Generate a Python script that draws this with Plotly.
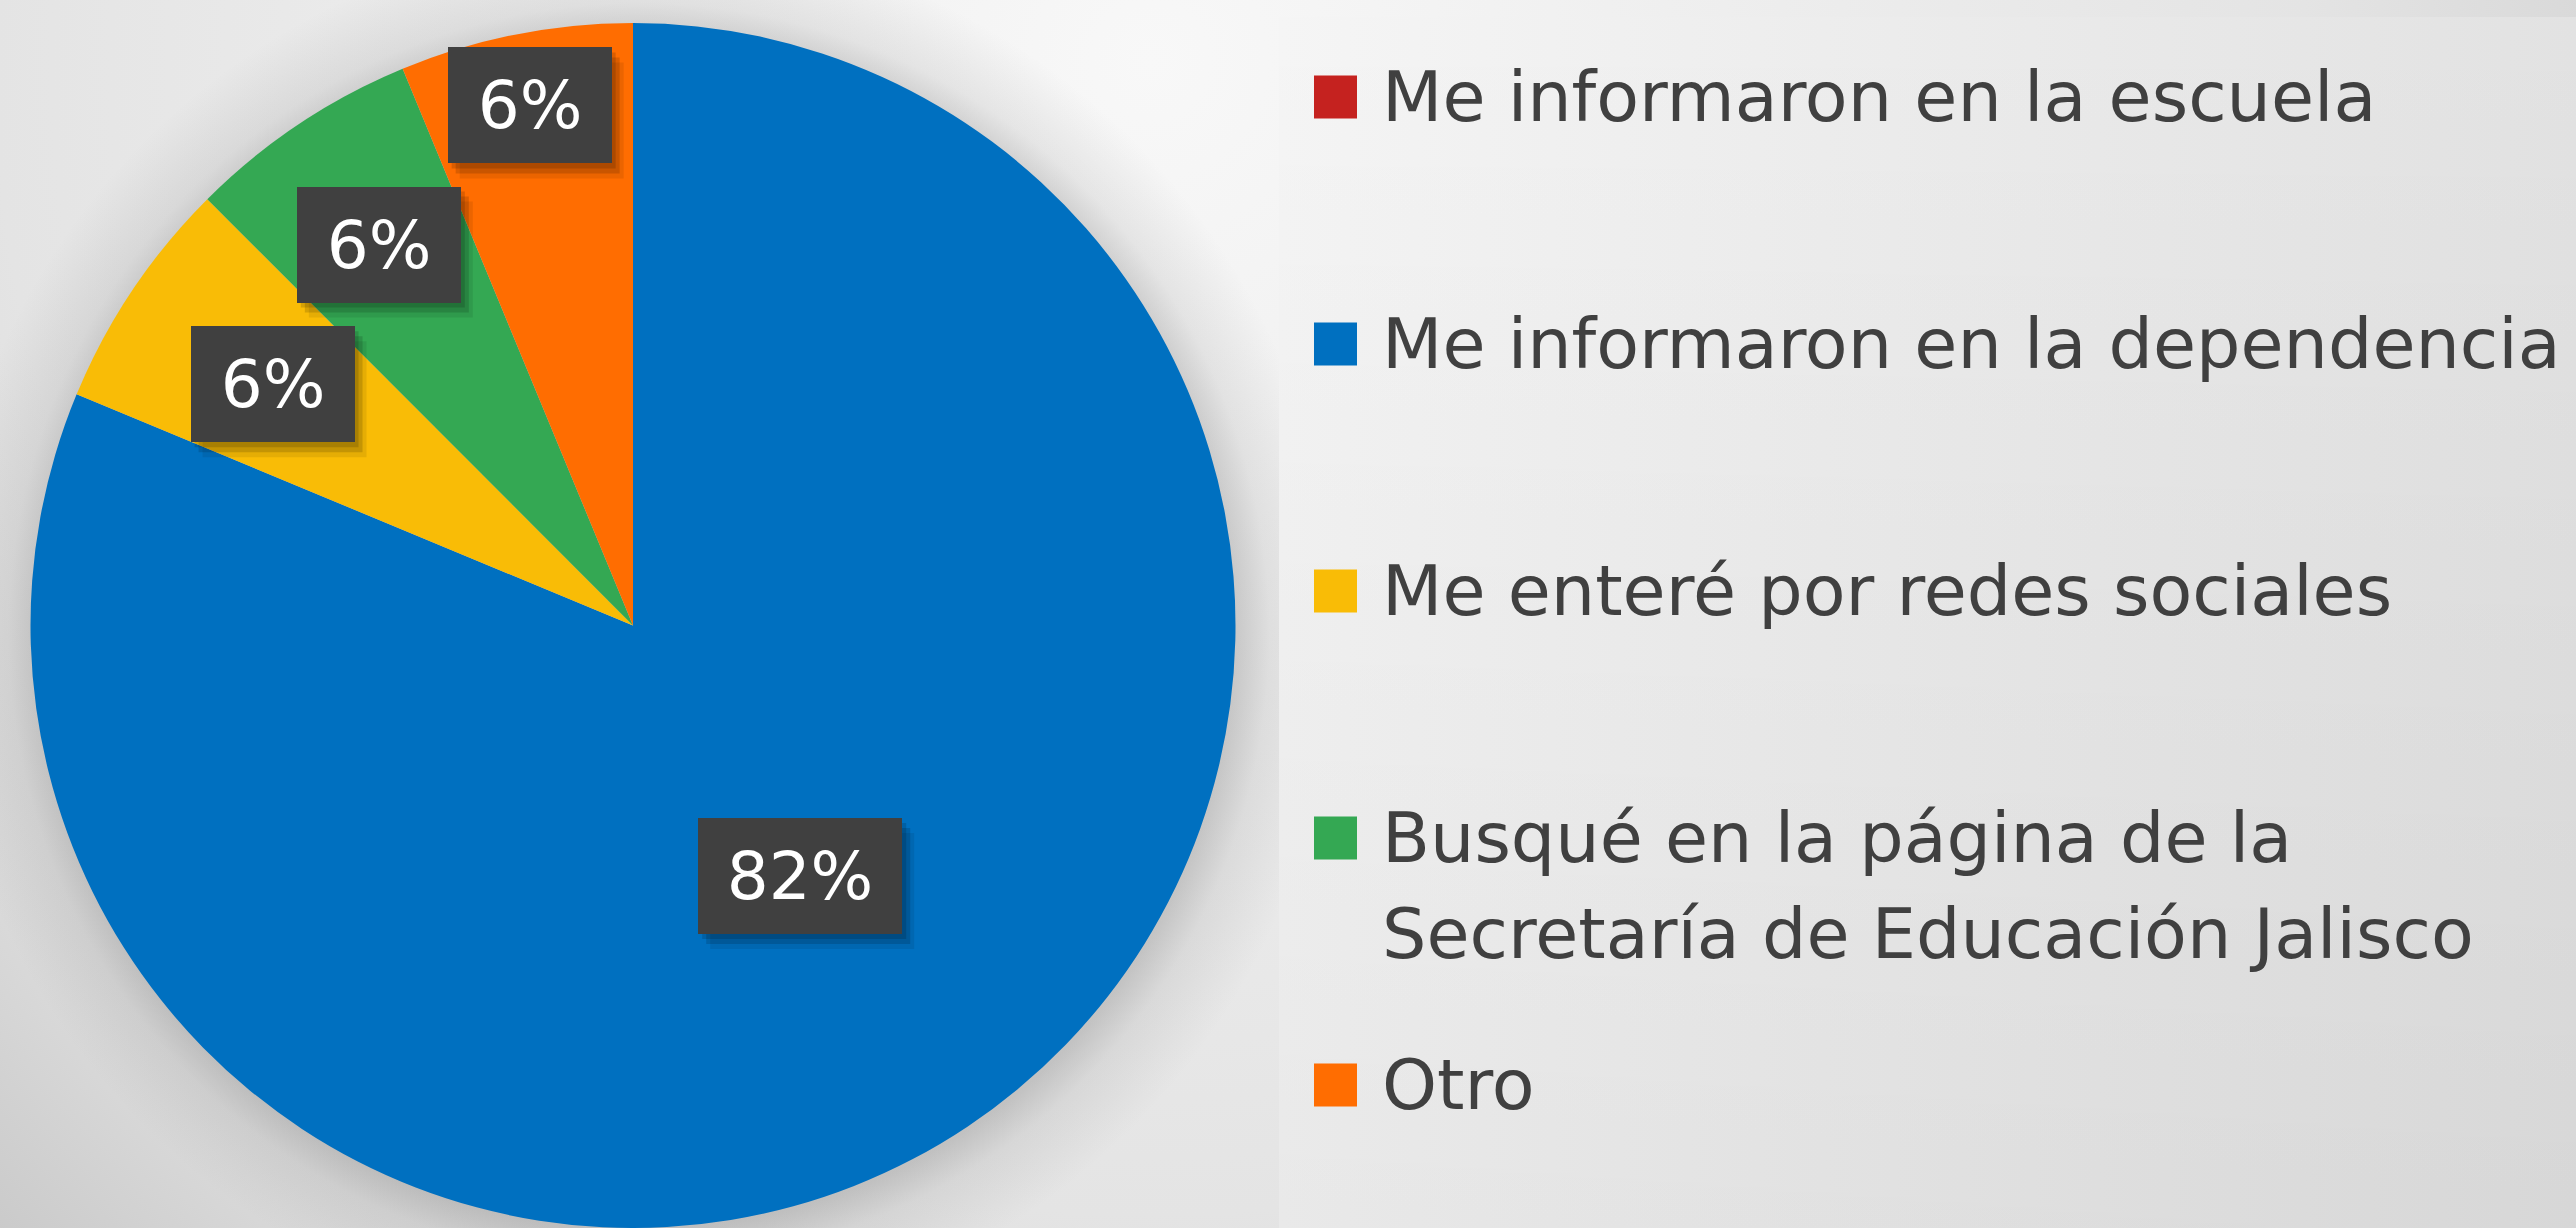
import numpy as np
import plotly.graph_objects as go

# ---------------- data ----------------
categories = [
    "Me informaron en la escuela",
    "Me informaron en la dependencia",
    "Me enteré por redes sociales",
    "Busqué en la página de la<br>Secretaría de Educación Jalisco",
    "Otro",
]
# percentages as shown in the data labels (slice sizes)
responses = [0, 82, 6.3, 6.3, 6.3]
slice_colors = ["#C5221F", "#0070C0", "#F9BC06", "#34A853", "#FF6D01"]

# ---------------- canvas / geometry ----------------
W, H = 2576, 1228
PIE_CX, PIE_TOP, PIE_R = 633, 23, 605

dom_x = [(PIE_CX - PIE_R) / W, (PIE_CX + PIE_R) / W]
dom_y = [0.0, 1 - PIE_TOP / H]
r_eff = min(2 * PIE_R, H - PIE_TOP) / 2
cy_eff = PIE_TOP + r_eff

fig = go.Figure()

def circle(cx, cy, r, n=240):
    t = np.linspace(0, 2 * np.pi, n)
    return cx + r * np.cos(t), cy + r * np.sin(t)

# background radial gradient
bx, by = circle(1150, 60, 1750)
fig.add_trace(go.Scatter(
    x=bx, y=by, mode="lines", fill="toself", line=dict(width=0),
    fillgradient=dict(type="radial", colorscale=[
        [0.0, "#f8f8f8"], [0.66, "#e4e4e4"], [0.82, "#d9d9d9"],
        [0.94, "#cacaca"], [1.0, "#c6c6c6"]]),
    hoverinfo="skip", showlegend=False))

# soft shadow around the pie
sx, sy = circle(PIE_CX + 6, cy_eff + 8, r_eff * 1.16)
edge = 1 / 1.16
fig.add_trace(go.Scatter(
    x=sx, y=sy, mode="lines", fill="toself", line=dict(width=0),
    fillgradient=dict(type="radial", colorscale=[
        [0.0, "rgba(110,110,110,0.30)"], [edge - 0.01, "rgba(110,110,110,0.30)"],
        [edge + 0.04, "rgba(110,110,110,0.12)"], [1.0, "rgba(110,110,110,0)"]]),
    hoverinfo="skip", showlegend=False))

# legend panel on the right
PX0, PY0 = 1279, 17
rx = [PX0, W, W, PX0, PX0]
ry = [PY0, PY0, H, H, PY0]
fig.add_trace(go.Scatter(
    x=rx, y=ry, mode="lines", fill="toself", line=dict(width=0),
    fillgradient=dict(type="horizontal", start=PX0, stop=W,
                      colorscale=[[0, "#f5f5f5"], [1, "#e2e2e2"]]),
    hoverinfo="skip", showlegend=False))
fig.add_trace(go.Scatter(
    x=rx, y=ry, mode="lines", fill="toself", line=dict(width=0),
    fillgradient=dict(type="vertical", start=PY0, stop=H,
                      colorscale=[[0, "rgba(0,0,0,0)"], [1, "rgba(0,0,0,0.05)"]]),
    hoverinfo="skip", showlegend=False))

# ---------------- pie ----------------
fig.add_trace(go.Pie(
    labels=categories, values=responses,
    marker=dict(colors=slice_colors, line=dict(width=0)),
    sort=False, direction="clockwise", rotation=0,
    textinfo="none", hoverinfo="label+percent",
    domain=dict(x=dom_x, y=dom_y), showlegend=False))

# ---------------- data labels (dark boxes, "best fit") ----------------
annotations = []
shapes = []
placed = []
total = sum(responses)
GAP = 20
cum = 0
for v in responses:
    if v > 0:
        frac = v / total
        mid = np.deg2rad((cum + v / 2) / total * 360)
        txt = f"{round(v)}%"
        bw = 84 + 40 * len(txt)
        bh = 116
        k = 0.5 if frac > 0.5 else 0.72
        while True:
            ax = PIE_CX + k * r_eff * np.sin(mid)
            ay = cy_eff - k * r_eff * np.cos(mid)
            clash = any(abs(ax - px) < (bw + pw) / 2 + GAP and abs(ay - py) < (bh + ph) / 2 + GAP
                        for px, py, pw, ph in placed)
            if not clash or k > 0.95:
                break
            k += 0.01
        placed.append((ax, ay, bw, bh))
        for dx, dy, a in [(12, 15, 0.08), (8, 10, 0.14), (4, 5, 0.14)]:
            shapes.append(dict(type="rect", xref="x", yref="y", layer="above",
                               x0=ax - bw / 2 + dx, x1=ax + bw / 2 + dx,
                               y0=ay - bh / 2 + dy, y1=ay + bh / 2 + dy,
                               fillcolor=f"rgba(0,0,0,{a})", line=dict(width=0)))
        annotations.append(dict(
            x=ax, y=ay, xref="x", yref="y", text=txt, showarrow=False,
            xanchor="center", yanchor="middle", width=bw, height=bh,
            bgcolor="#404040", borderpad=0, borderwidth=0,
            font=dict(family="DejaVu Sans", size=66, color="#ffffff")))
    cum += v

# ---------------- custom legend ----------------
LEG_Y0, LEG_STEP, LINE_STEP = 97, 247, 96
for i, (lab, col) in enumerate(zip(categories, slice_colors)):
    yc = LEG_Y0 + i * LEG_STEP
    shapes.append(dict(type="rect", xref="x", yref="y", layer="above",
                       x0=1314, x1=1357, y0=yc - 21.5, y1=yc + 21.5,
                       fillcolor=col, line=dict(width=0)))
    for j, line in enumerate(lab.split("<br>")):
        annotations.append(dict(
            x=1380, y=yc + j * LINE_STEP, xref="x", yref="y", text=line,
            showarrow=False, xanchor="left", yanchor="middle",
            font=dict(family="DejaVu Sans", size=70, color="#404040")))

fig.update_layout(
    width=W, height=H, margin=dict(l=0, r=0, t=0, b=0, pad=0),
    paper_bgcolor="#e4e4e4", plot_bgcolor="rgba(0,0,0,0)",
    xaxis=dict(range=[0, W], visible=False, fixedrange=True, domain=[0, 1]),
    yaxis=dict(range=[H, 0], visible=False, fixedrange=True, domain=[0, 1]),
    annotations=annotations, shapes=shapes, showlegend=False,
)

fig.write_html("out.html", config={"displayModeBar": False},
               post_script="document.body.style.margin='0';document.body.style.overflow='hidden';")
